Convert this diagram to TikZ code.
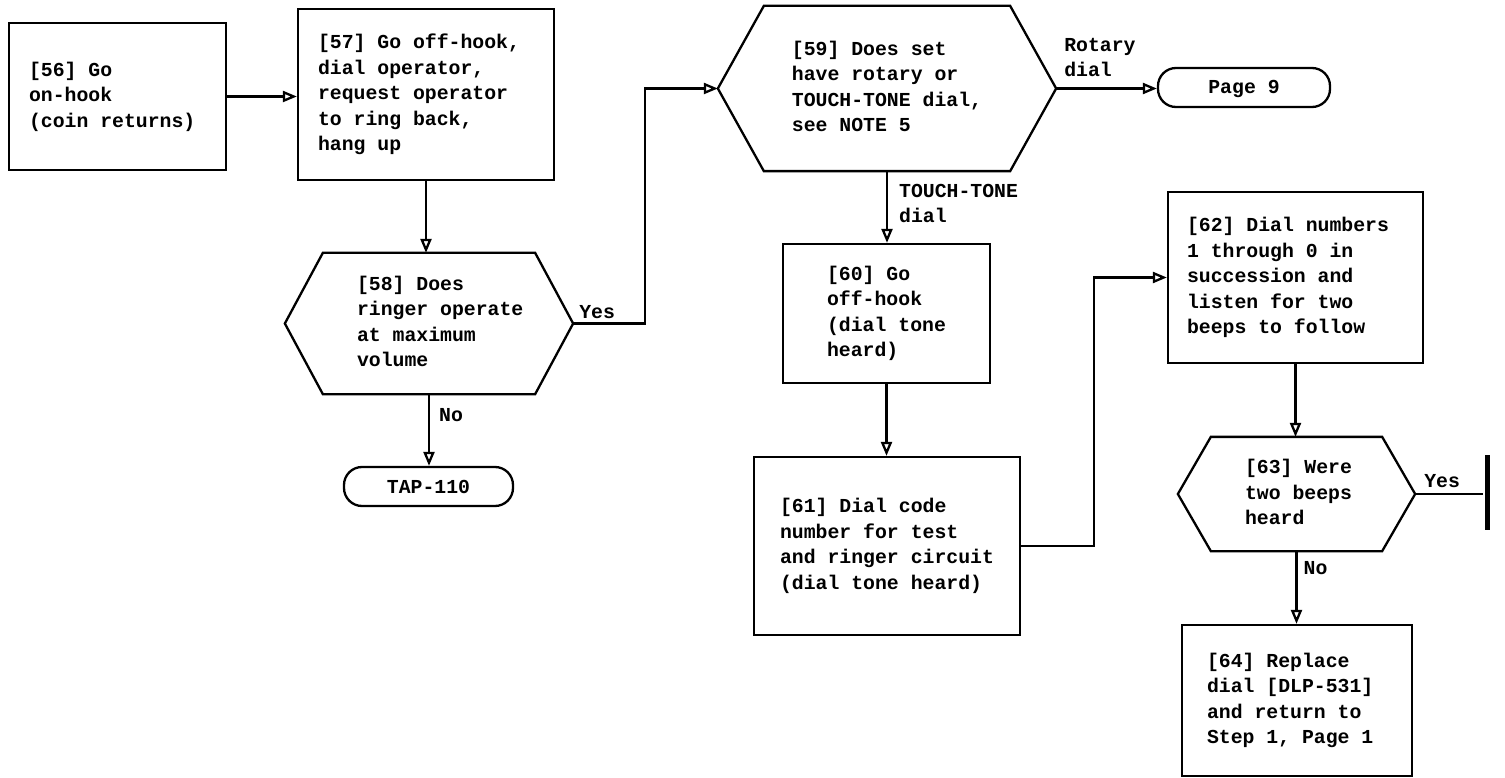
\documentclass[tikz,border=0pt]{standalone}
\usepackage{fontspec}
\newfontfamily\tw{Liberation Mono}
\usetikzlibrary{arrows.meta}
\newcommand\blk[3]{\begin{tabular}{@{\hspace{#1pt}}l@{\hspace{#2pt}}}#3\end{tabular}}
\newcommand\drawhexof[2]{\draw (#1.west) -- ([xshift=#2]#1.north west) -- ([xshift=-#2]#1.north east) -- (#1.east) -- ([xshift=-#2]#1.south east) -- ([xshift=#2]#1.south west) -- cycle;}
\begin{document}
\begin{tikzpicture}[x=1pt,y=-1pt,line width=2.3pt,
  every node/.style={inner sep=0pt, font=\tw\bfseries\fontsize{19.8}{25.5}\selectfont},
  procbox/.style={draw, rectangle},
  hexnode/.style={rectangle},
  term/.style={draw, rounded corners=18pt, minimum height=39pt, text height=13pt, text depth=0pt},
  arr/.style={-{Triangle[open,length=14pt,width=11pt,line width=2.3pt]}},
  lbl/.style={anchor=base west}]
\useasboundingbox (0,0) rectangle (1505,778);

% process boxes
\node[procbox, minimum width=217pt, minimum height=147pt] (n56) at (117.5,96.5)
  {\blk{0}{10.6}{[56] Go\\on-hook\\(coin returns)}};
\node[procbox, minimum width=256pt, minimum height=171pt] (n57) at (426,94.5)
  {\blk{0}{14}{[57] Go off-hook,\\dial operator,\\request operator\\to ring back,\\hang up}};
\node[procbox, minimum width=207pt, minimum height=139pt] (n60) at (886.5,313.5)
  {\blk{0}{0}{[60] Go\\off-hook\\(dial tone\\heard)}};
\node[procbox, minimum width=266pt, minimum height=178pt] (n61) at (887,546)
  {\blk{0}{0}{[61] Dial code\\number for test\\and ringer circuit\\(dial tone heard)}};
\node[procbox, minimum width=255pt, minimum height=171pt] (n62) at (1295.5,277.5)
  {\blk{0}{15}{[62] Dial numbers\\1 through 0 in\\succession and\\listen for two\\beeps to follow}};
\node[procbox, minimum width=230pt, minimum height=151pt] (n64) at (1297,700.5)
  {\blk{0}{13.6}{[64] Replace\\dial [DLP-531]\\and return to\\Step 1, Page 1}};

% decisions
\node[hexnode, minimum width=286pt, minimum height=139pt] (n58) at (429,323.5)
  {\blk{22.4}{0}{[58] Does\\ringer operate\\at maximum\\volume}};
\drawhexof{n58}{38pt}
\node[hexnode, minimum width=336pt, minimum height=163pt] (n59) at (887,88.5)
  {\blk{0}{0}{[59] Does set\\have rotary or\\TOUCH-TONE dial,\\see NOTE 5}};
\drawhexof{n59}{46pt}
\node[hexnode, minimum width=235pt, minimum height=112pt] (n63) at (1296.5,494)
  {\blk{4}{0}{[63] Were\\two beeps\\heard}};
\drawhexof{n63}{33pt}

% terminals
\node[term, minimum width=169pt] (tap) at (428.5,486.5) {TAP-110};
\node[term, minimum width=172pt] (p9) at (1244,87.5) {Page 9};

% end bar
\node[fill=black, minimum width=5pt, minimum height=75pt] (bar) at (1487,492.5) {};

% connectors
\draw[arr] (n56.east) -- (n56.east -| n57.west);
\draw[arr] (n57.south) -- (n57.south |- n58.north);
\draw[arr] (n58.south) -- (n58.south |- tap.north);
\coordinate (c1) at (645,200);
\draw[arr] (n58.east) -| (c1) |- (n59.west);
\draw[arr] (n59.east) -- (n59.east -| p9.west);
\draw[arr] (n59.south) -- (n59.south |- n60.north);
\draw[arr] (n60.south) -- (n60.south |- n61.north);
\coordinate (c2) at (1094,400);
\draw[arr] (n61.east) -| (c2) |- (n62.west);
\draw[arr] (n62.south) -- (n62.south |- n63.north);
\draw[arr] (n63.south) -- (n63.south |- n64.north);
\draw (n63.east) -- (n63.east -| bar.west);

% labels
\node[lbl] (y58) at ([xshift=5pt,yshift=5.5pt]n58.east) {Yes};
\node[lbl] (no58) at ([xshift=9pt,yshift=-27pt]n58.south) {No};
\node[anchor=south west] (rot) at ([xshift=7pt,yshift=2.85pt]n59.east) {\blk{0}{0}{Rotary\\dial}};
\node[anchor=north west] (tt) at ([xshift=11pt,yshift=-7pt]n59.south) {\blk{0}{0}{TOUCH-TONE\\dial}};
\node[lbl] (y63) at ([xshift=8pt,yshift=7pt]n63.east) {Yes};
\node[lbl] (no63) at ([xshift=6pt,yshift=-23pt]n63.south) {No};
\end{tikzpicture}
\end{document}
